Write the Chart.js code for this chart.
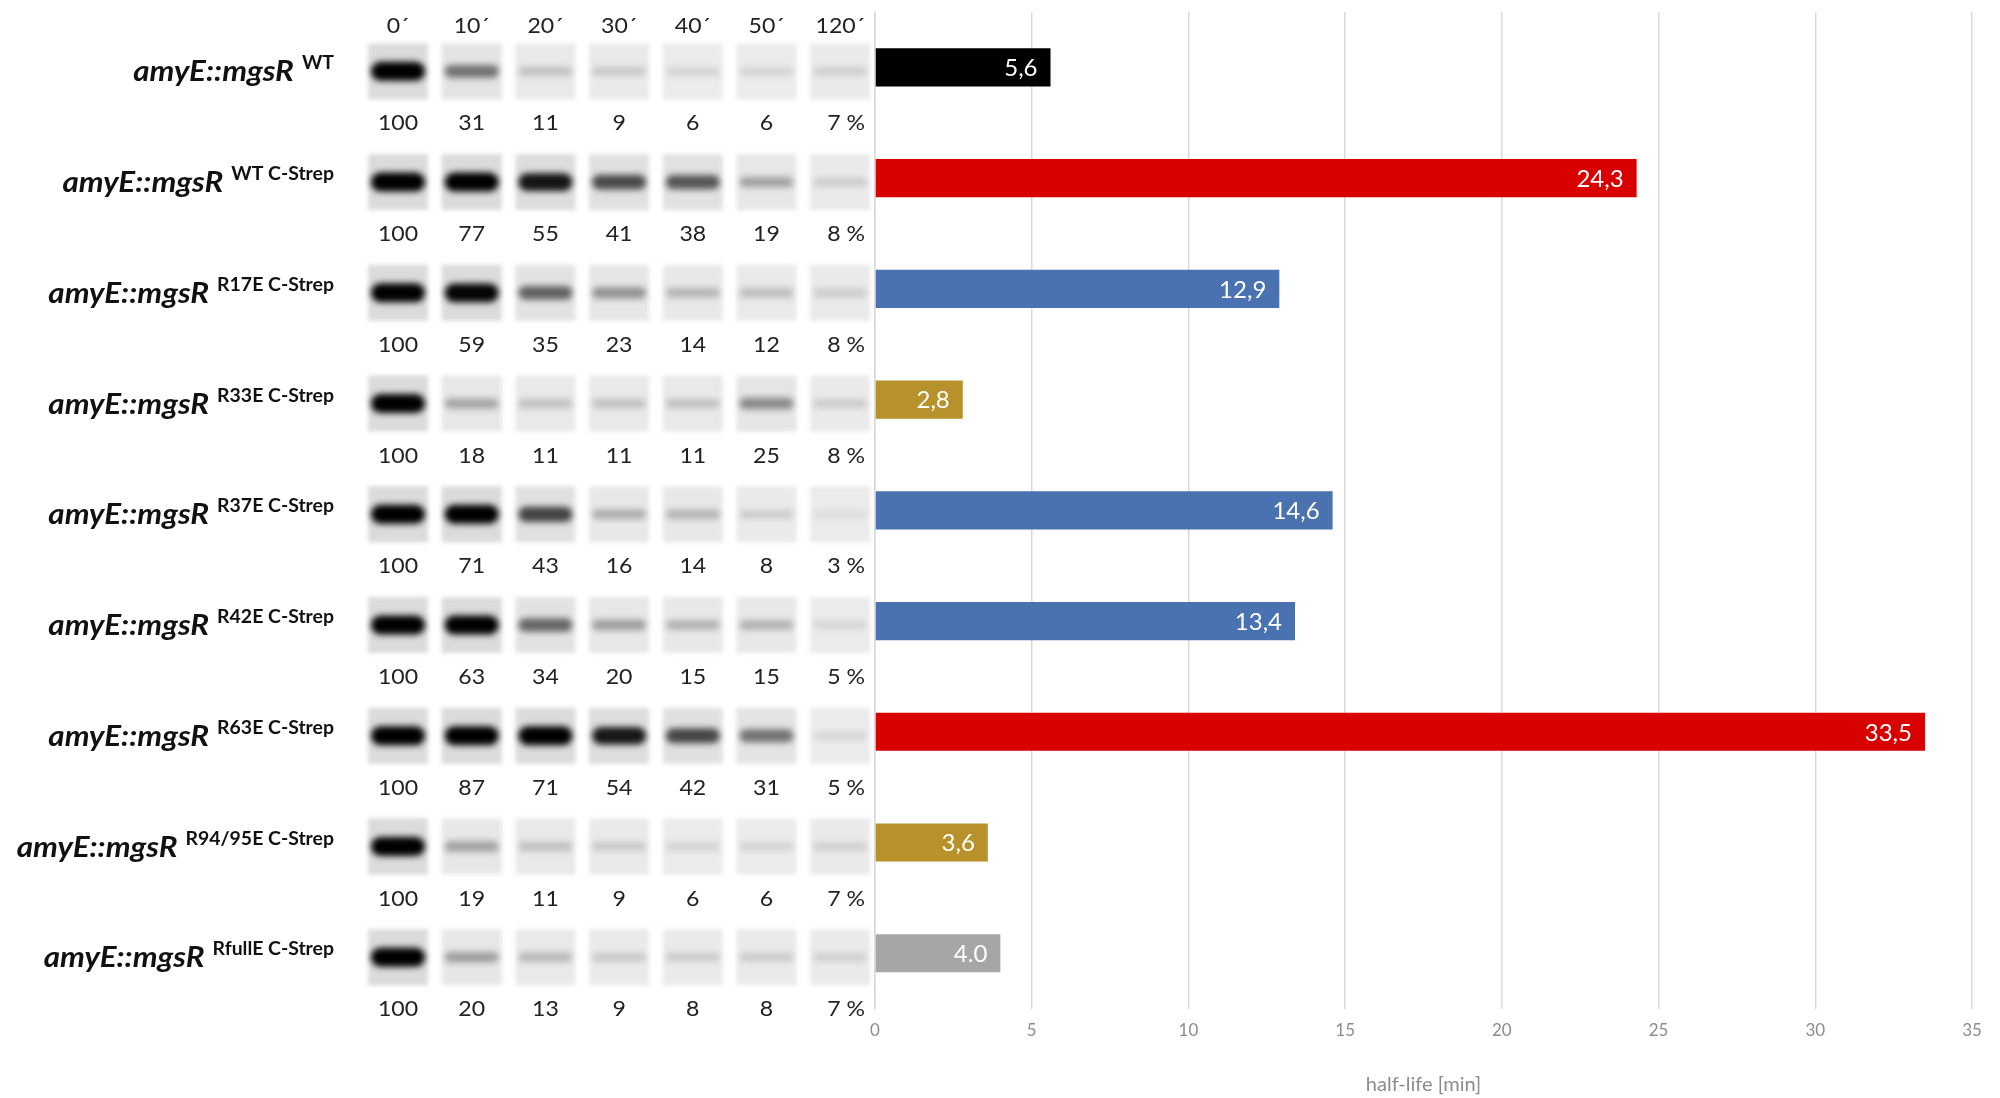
<!DOCTYPE html>
<html>
<head>
<meta charset="utf-8">
<script src="https://cdn.jsdelivr.net/npm/chart.js@4.4.1/dist/chart.umd.min.js"></script>
<style>
  html, body { margin: 0; padding: 0; background: #fff; }
  #wrap { width: 2000px; height: 1098px; position: relative; }
</style>
</head>
<body>
<div id="wrap"><canvas id="halfLifeChart"></canvas></div>
<script>
// strains (superscript part of the label), main part is the same for all
const strainBase = 'amyE::mgsR';
const strains = ['WT', 'WT C-Strep', 'R17E C-Strep', 'R33E C-Strep', 'R37E C-Strep',
                 'R42E C-Strep', 'R63E C-Strep', 'R94/95E C-Strep', 'RfullE C-Strep'];

// half-life [min]
const halfLife = [5.6, 24.3, 12.9, 2.8, 14.6, 13.4, 33.5, 3.6, 4.0];
const halfLifeLabels = ['5,6', '24,3', '12,9', '2,8', '14,6', '13,4', '33,5', '3,6', '4.0'];

// chase time points of the western blots
const timePoints = ['0´', '10´', '20´', '30´', '40´', '50´', '120´'];

// remaining protein [%] per strain
const remWT       = [100, 31, 11, 9, 6, 6, 7];
const remWTStrep  = [100, 77, 55, 41, 38, 19, 8];
const remR17E     = [100, 59, 35, 23, 14, 12, 8];
const remR33E     = [100, 18, 11, 11, 11, 25, 8];
const remR37E     = [100, 71, 43, 16, 14, 8, 3];
const remR42E     = [100, 63, 34, 20, 15, 15, 5];
const remR63E     = [100, 87, 71, 54, 42, 31, 5];
const remR9495E   = [100, 19, 11, 9, 6, 6, 7];
const remRfullE   = [100, 20, 13, 9, 8, 8, 7];
const remaining = [remWT, remWTStrep, remR17E, remR33E, remR37E, remR42E, remR63E, remR9495E, remRfullE];

// x axis
const axisMax = 35;
const axisStep = 5;

const barColors = ['#000000', '#d90000', '#4a72b0', '#b7922a', '#4a72b0',
                   '#4a72b0', '#d90000', '#b7922a', '#a6a6a6'];

// layout of the blot panel
const labelRight = 334;
const laneX0 = 398;
const laneStep = 73.7;
const laneW = 60;
const gelH = 56;

function stretchedText(ctx, text, x, y, align, font, color, sx) {
    ctx.save();
    ctx.font = font;
    ctx.fillStyle = color;
    ctx.textBaseline = 'alphabetic';
    const w = ctx.measureText(text).width * sx;
    let left = x;
    if (align === 'center') left = x - w / 2;
    if (align === 'right') left = x - w;
    ctx.translate(left, y);
    ctx.scale(sx, 1);
    ctx.textAlign = 'left';
    ctx.fillText(text, 0, 0);
    ctx.restore();
    return w;
}

function textW(ctx, text, font, sx) {
    ctx.save();
    ctx.font = font;
    const w = ctx.measureText(text).width * sx;
    ctx.restore();
    return w;
}

// labels, blots and percentages on the left
const blotPanel = {
    id: 'blotPanel',
    afterDraw(chart) {
        const ctx = chart.ctx;
        const yScale = chart.scales.y;
        const mainFont = 'italic bold 28px Lato';
        const supFont = 'bold 18px Lato';
        const numFont = '21px Lato';

        timePoints.forEach((t, j) => {
            stretchedText(ctx, t, laneX0 + j * laneStep, 33, 'center', numFont, '#222', 1.1);
        });

        strains.forEach((s, i) => {
            const cy = yScale.getPixelForValue(i);

            // strain label with superscript
            const supW = textW(ctx, s, supFont, 1.08);
            const mainW = textW(ctx, strainBase, mainFont, 1.12);
            const start = labelRight - supW - 8 - mainW;
            stretchedText(ctx, strainBase, start, cy + 14, 'left', mainFont, '#111', 1.12);
            stretchedText(ctx, s, labelRight, cy + 2, 'right', supFont, '#111', 1.08);

            // blot lanes
            remaining[i].forEach((p, j) => {
                const lx = laneX0 + j * laneStep;
                const top = cy + 4 - gelH / 2;
                const a = Math.min(1, Math.pow(p / 60, 1.1));
                ctx.save();
                ctx.filter = 'blur(2px)';
                ctx.fillStyle = '#ececec';
                ctx.fillRect(lx - laneW / 2, top, laneW, gelH);
                ctx.fillStyle = 'rgba(0,0,0,' + (0.07 * a) + ')';
                ctx.fillRect(lx - laneW / 2, top, laneW, gelH);
                ctx.filter = 'blur(3px)';
                ctx.fillStyle = 'rgba(0,0,0,' + (0.03 + 0.97 * a) + ')';
                const bh = 7 + 12 * a;
                const bw = laneW - 6;
                ctx.beginPath();
                ctx.roundRect(lx - bw / 2, cy + 4 - bh / 2, bw, bh, bh / 2);
                ctx.fill();
                ctx.restore();

                const last = j === remaining[i].length - 1;
                stretchedText(ctx, last ? p + ' %' : String(p), lx + (last ? 6 : 0),
                              cy + 63, 'center', numFont, '#222', 1.1);
            });
        });
    }
};

// value labels inside the bars
const barValues = {
    id: 'barValues',
    afterDatasetsDraw(chart) {
        const ctx = chart.ctx;
        const meta = chart.getDatasetMeta(0);
        ctx.save();
        ctx.font = '24px Lato';
        ctx.fillStyle = '#ffffff';
        ctx.textAlign = 'right';
        ctx.textBaseline = 'middle';
        meta.data.forEach((bar, i) => {
            ctx.fillText(halfLifeLabels[i], bar.x - 13, bar.y + 1);
        });
        ctx.restore();
    }
};

const ctx = document.getElementById('halfLifeChart').getContext('2d');
new Chart(ctx, {
    type: 'bar',
    data: {
        labels: strains,
        datasets: [{
            data: halfLife,
            backgroundColor: barColors,
            categoryPercentage: 1,
            barPercentage: 0.345
        }]
    },
    options: {
        indexAxis: 'y',
        responsive: true,
        maintainAspectRatio: false,
        animation: false,
        layout: { padding: { left: 875, right: 28, top: 12, bottom: 1 } },
        plugins: {
            legend: { display: false },
            tooltip: { enabled: false }
        },
        scales: {
            x: {
                min: 0,
                max: axisMax,
                ticks: {
                    stepSize: axisStep,
                    color: '#8c8c8c',
                    font: { family: 'Lato', size: 17 },
                    padding: 12
                },
                grid: { color: '#d9d9d9', lineWidth: 1.5, drawTicks: false },
                border: { display: false },
                title: {
                    display: true,
                    text: 'half-life [min]',
                    color: '#8c8c8c',
                    font: { family: 'Lato', size: 20 },
                    padding: { top: 20, bottom: 0 }
                }
            },
            y: {
                ticks: { display: false },
                grid: { display: false, drawTicks: false },
                border: { display: true, color: '#d9d9d9', width: 1.5 }
            }
        }
    },
    plugins: [blotPanel, barValues]
});
</script>
</body>
</html>
